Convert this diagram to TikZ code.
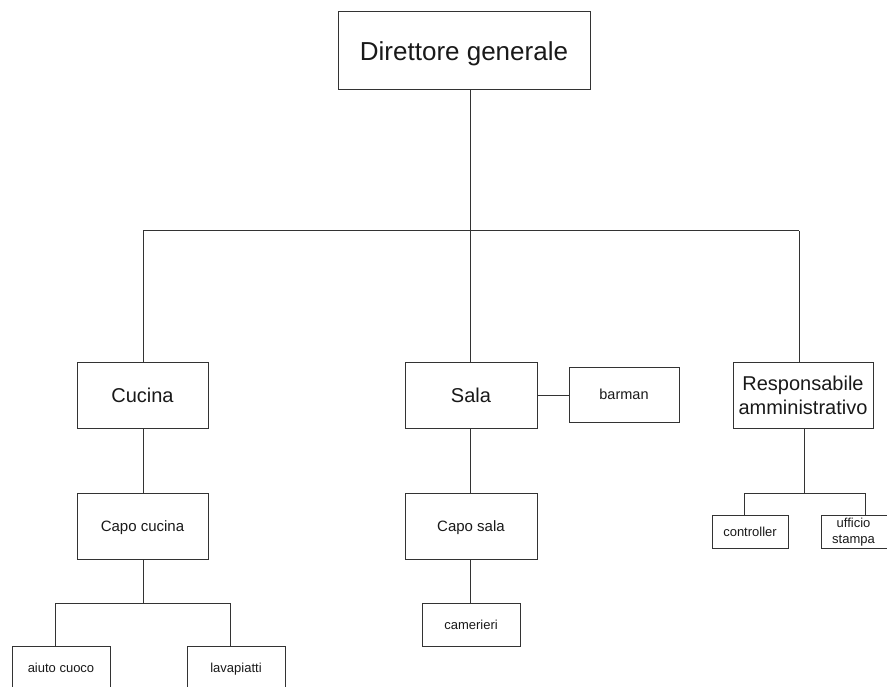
\documentclass[tikz,border=0pt]{standalone}
\usepackage{fontspec}
\setmainfont{Liberation Sans}
\begin{document}
\begin{tikzpicture}[x=1pt,y=-1pt,
  box/.style={draw=black!80, line width=1pt, rectangle, inner sep=0pt, align=center, text=black!90},
  capc/.style={text height=#1, text depth=0pt},
  conn/.style={draw=black!80, line width=1pt}]
\useasboundingbox (0,0) rectangle (887,687);
\clip (0,0) rectangle (887,687);
% nodes
\node[box, capc=18.6pt, minimum width=252pt, minimum height=78pt, font=\fontsize{26}{30}\selectfont] (dir) at (464,51) {Direttore generale};
\node[box, capc=14.3pt, minimum width=131pt, minimum height=66pt, font=\fontsize{20}{23}\selectfont] (cucina) at (142.5,395) {Cucina};
\node[box, capc=14.3pt, minimum width=132pt, minimum height=66pt, font=\fontsize{20}{23}\selectfont] (sala) at (471,395) {Sala};
\node[box, capc=10.4pt, minimum width=110pt, minimum height=55pt, font=\fontsize{14.5}{17}\selectfont] (barman) at (624,394.5) {barman};
\node[box, minimum width=140pt, minimum height=66pt, font=\fontsize{20}{24}\selectfont] (resp) at (803,395) {Responsabile\\amministrativo};
\node[box, capc=9.3pt, minimum width=76pt, minimum height=33pt, font=\fontsize{13}{16}\selectfont] (controller) at (750,531.5) {controller};
\node[box, minimum width=68pt, minimum height=33pt, font=\fontsize{13}{16}\selectfont, anchor=west] (ufficio) at (821,532) {\hspace*{-4pt}ufficio\\\hspace*{-4pt}stampa};
\node[box, capc=10.7pt, minimum width=131pt, minimum height=66pt, font=\fontsize{15}{18}\selectfont] (capocucina) at (142.5,526) {Capo cucina};
\node[box, capc=10.7pt, minimum width=132pt, minimum height=66pt, font=\fontsize{15}{18}\selectfont] (caposala) at (471,526) {Capo sala};
\node[box, capc=9.3pt, minimum width=98pt, minimum height=43pt, font=\fontsize{13}{16}\selectfont] (camerieri) at (471,624.5) {camerieri};
\node[box, capc=9.3pt, minimum width=98pt, minimum height=43pt, font=\fontsize{13}{16}\selectfont] (aiuto) at (61,667.5) {aiuto cuoco};
\node[box, capc=9.3pt, minimum width=98pt, minimum height=43pt, font=\fontsize{13}{16}\selectfont] (lava) at (236,667.5) {lavapiatti};
% junction coordinates
\coordinate (jtop) at (470,231);
\coordinate (jl) at (143,231);
\coordinate (jr) at (799,231);
\coordinate (jres) at (804,493);
\coordinate (jcl) at (744,493);
\coordinate (jcr) at (865,493);
\coordinate (jcc) at (143,603);
\coordinate (jal) at (55,603);
\coordinate (jar) at (230,603);
% connectors
\draw[conn] (dir.south -| jtop) -- (jtop);
\draw[conn] (jl) -- (jr);
\draw[conn] (jl) -- (cucina.north -| jl);
\draw[conn] (jtop) -- (sala.north -| jtop);
\draw[conn] (jr) -- (resp.north -| jr);
\draw[conn] (sala.east) -- (barman.west |- sala.east);
\draw[conn] (cucina.south -| jl) -- (capocucina.north -| jl);
\draw[conn] (sala.south -| jtop) -- (caposala.north -| jtop);
\draw[conn] (caposala.south -| jtop) -- (camerieri.north -| jtop);
\draw[conn] (resp.south -| jres) -- (jres);
\draw[conn] (jcl) -- (jcr);
\draw[conn] (jcl) -- (controller.north -| jcl);
\draw[conn] (jcr) -- (ufficio.north -| jcr);
\draw[conn] (capocucina.south -| jcc) -- (jcc);
\draw[conn] (jal) -- (jar);
\draw[conn] (jal) -- (aiuto.north -| jal);
\draw[conn] (jar) -- (lava.north -| jar);
\end{tikzpicture}
\end{document}
